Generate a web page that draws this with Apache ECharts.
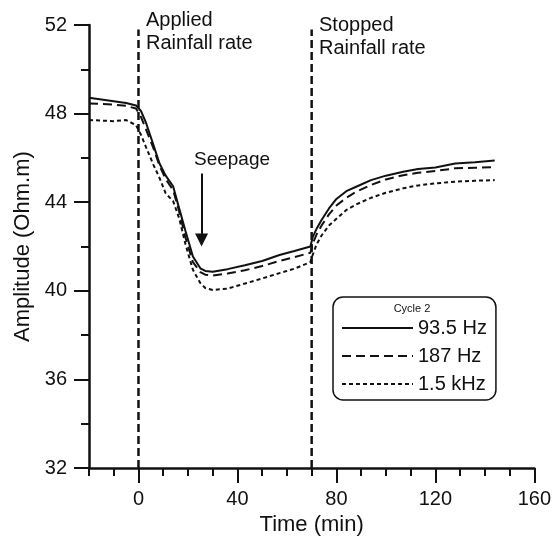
<!DOCTYPE html>
<html>
<head>
<meta charset="utf-8">
<title>Cycle 2 amplitude</title>
<script src="https://cdn.jsdelivr.net/npm/echarts@6/dist/echarts.min.js"></script>
<style>
    html, body { margin: 0; padding: 0; background: #fff; }
    #chart { width: 554px; height: 541px; }
</style>
</head>
<body>
<div id="chart"></div>
<script>
// time in minutes, shared by the three frequencies
var times = [-20, -10, -5, -1, 1, 3, 6, 8.5, 11, 14, 16.5, 19, 22, 25, 27, 30, 36, 43, 50, 57, 63, 69.5,
    70.5, 72, 74, 77, 80, 84, 88, 94, 100, 107, 113, 120, 128, 136, 144];

var amp_935hz = [48.72, 48.56, 48.48, 48.37, 48.12, 47.6, 46.6, 45.75, 45.2, 44.72, 43.7, 42.7, 41.55, 41.02, 40.9, 40.86, 40.98, 41.16, 41.35, 41.62, 41.8, 42.0,
    42.45, 42.8, 43.2, 43.72, 44.15, 44.5, 44.7, 45.0, 45.2, 45.38, 45.5, 45.57, 45.75, 45.8, 45.88];

var amp_187hz = [48.46, 48.41, 48.35, 48.23, 47.85, 47.3, 46.45, 45.65, 45.05, 44.55, 43.56, 42.4, 41.3, 40.85, 40.73, 40.69, 40.78, 40.93, 41.12, 41.35, 41.52, 41.72,
    42.15, 42.55, 42.95, 43.45, 43.85, 44.2, 44.47, 44.78, 45.03, 45.22, 45.33, 45.41, 45.53, 45.56, 45.58];

var amp_15khz = [47.71, 47.66, 47.71, 47.48, 47.05, 46.5, 45.7, 45.1, 44.4, 44.05, 43.26, 42.1, 40.95, 40.35, 40.13, 40.04, 40.1, 40.33, 40.56, 40.8, 41.0, 41.3,
    41.65, 42.1, 42.5, 42.95, 43.25, 43.65, 43.9, 44.2, 44.43, 44.63, 44.76, 44.85, 44.93, 44.97, 45.0];

var seriesNames = ['93.5 Hz', '187 Hz', '1.5 kHz'];

// rainfall start / stop
var eventTimes = [0, 70];
var eventTop = 51.8;

// seepage arrow (time, from, to)
var seepageArrow = [25.5, 45.3, 42.3];

var xMajorTicks = [0, 40, 80, 120, 160];

window.onload = function () {
    var font = 'Liberation Sans, Arial, sans-serif';

    function pairs(vals) {
        return times.map(function (t, i) { return [t, vals[i]]; });
    }

    var eventData = [];
    eventTimes.forEach(function (t) {
        eventData.push([t, 32], [t, eventTop], null);
    });

    var chart = echarts.init(document.getElementById('chart'));
    chart.setOption({
        animation: false,
        backgroundColor: '#fff',
        textStyle: { fontFamily: font, color: '#111' },
        grid: { left: 89, right: 17, top: 25, bottom: 70 },
        legend: {
            orient: 'vertical',
            left: 333,
            top: 297,
            data: seriesNames,
            itemWidth: 71,
            itemHeight: 14,
            itemGap: 8,
            padding: [21, 9, 6, 8],
            borderColor: '#111',
            borderWidth: 1.5,
            borderRadius: 10,
            // only the line part of the icon, no marker
            itemStyle: { opacity: 0 },
            textStyle: { fontSize: 20, color: '#111', fontFamily: font },
            selectedMode: false
        },
        xAxis: [{
            type: 'value',
            min: -20,
            max: 160,
            interval: 10,
            axisLine: { onZero: false, lineStyle: { color: '#111', width: 2.5 } },
            axisTick: { length: 8, lineStyle: { color: '#111', width: 2 } },
            axisLabel: { show: false },
            splitLine: { show: false }
        }, {
            type: 'value',
            min: -20,
            max: 160,
            position: 'bottom',
            offset: 0,
            axisLine: { show: false, onZero: false },
            axisTick: { customValues: xMajorTicks, length: 15, lineStyle: { color: '#111', width: 2 } },
            axisLabel: { customValues: xMajorTicks, fontSize: 20, margin: 21, color: '#111' },
            splitLine: { show: false },
            name: 'Time (min)',
            nameLocation: 'middle',
            nameGap: 36,
            nameTextStyle: { fontSize: 22, color: '#111' }
        }],
        yAxis: {
            type: 'value',
            min: 32,
            max: 52,
            interval: 4,
            axisLine: { show: true, onZero: false, lineStyle: { color: '#111', width: 2.5 } },
            axisTick: { show: true, length: 15, lineStyle: { color: '#111', width: 2 } },
            minorTick: { show: true, splitNumber: 2, length: 8, lineStyle: { color: '#111', width: 2 } },
            axisLabel: { fontSize: 20, margin: 22, color: '#111' },
            splitLine: { show: false },
            name: 'Amplitude (Ohm.m)',
            nameLocation: 'middle',
            nameGap: 52,
            nameTextStyle: { fontSize: 22, color: '#111' }
        },
        series: [{
            name: seriesNames[0],
            type: 'line',
            data: pairs(amp_935hz),
            showSymbol: false,
            symbol: 'none',
            lineStyle: { color: '#111', width: 2 },
            itemStyle: { color: '#111' }
        }, {
            name: seriesNames[1],
            type: 'line',
            data: pairs(amp_187hz),
            showSymbol: false,
            symbol: 'none',
            lineStyle: { color: '#111', width: 2, type: [9, 5] },
            itemStyle: { color: '#111' }
        }, {
            name: seriesNames[2],
            type: 'line',
            data: pairs(amp_15khz),
            showSymbol: false,
            symbol: 'none',
            lineStyle: { color: '#111', width: 2, type: [4, 3] },
            itemStyle: { color: '#111' }
        }, {
            name: 'events',
            type: 'line',
            data: eventData,
            connectNulls: false,
            symbol: 'none',
            silent: true,
            lineStyle: { color: '#111', width: 2.5, type: [8, 4] },
            markLine: {
                silent: true,
                symbol: ['none', 'triangle'],
                symbolSize: 13,
                label: { show: false },
                lineStyle: { color: '#111', width: 2, type: 'solid' },
                data: [[
                    { coord: [seepageArrow[0], seepageArrow[1]] },
                    { coord: [seepageArrow[0], seepageArrow[2]] }
                ]]
            }
        }],
        graphic: [{
            type: 'text',
            left: 146,
            top: 9,
            style: { text: 'Applied\nRainfall rate', fontSize: 20, lineHeight: 23, fontFamily: font, fill: '#111' }
        }, {
            type: 'text',
            left: 319,
            top: 14,
            style: { text: 'Stopped\nRainfall rate', fontSize: 20, lineHeight: 23, fontFamily: font, fill: '#111' }
        }, {
            type: 'text',
            left: 194,
            top: 150,
            style: { text: 'Seepage', fontSize: 19, fontFamily: font, fill: '#111' }
        }, {
            type: 'text',
            x: 412,
            y: 303,
            style: { text: 'Cycle 2', fontSize: 11, fontFamily: font, fill: '#111', align: 'center' }
        }]
    });
};
</script>
</body>
</html>
